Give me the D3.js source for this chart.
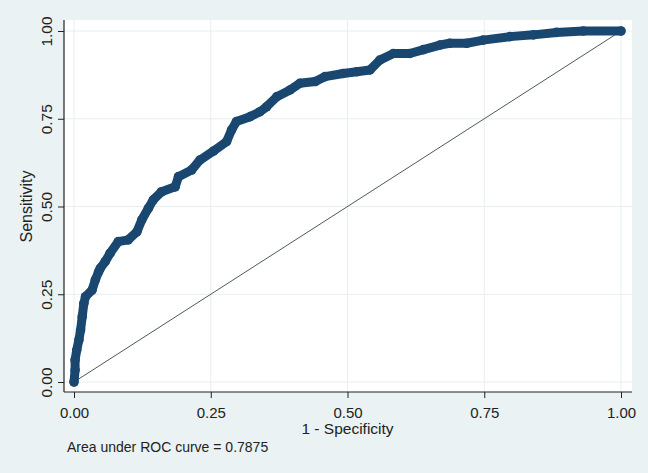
<!DOCTYPE html>
<html>
<head>
<meta charset="utf-8">
<script src="https://cdn.jsdelivr.net/npm/d3@7"></script>
<style>
  body { margin: 0; background: #eaf2f3; }
  svg { display: block; font-family: "Liberation Sans", Arial, sans-serif; }
</style>
</head>
<body>
<div id="chart"></div>
<script>
// Titik kurva ROC (1 - specificity, sensitivity)
const fpr = [0, 0.002, 0.002, 0.005, 0.009, 0.012, 0.015, 0.018, 0.021, 0.033,
  0.039, 0.045, 0.048, 0.057, 0.066, 0.081, 0.099, 0.115, 0.124, 0.136,
  0.145, 0.160, 0.185, 0.191, 0.215, 0.230, 0.255, 0.279, 0.288, 0.297,
  0.322, 0.340, 0.352, 0.371, 0.395, 0.413, 0.441, 0.459, 0.492, 0.517,
  0.541, 0.559, 0.584, 0.614, 0.639, 0.669, 0.687, 0.718, 0.748, 0.797,
  0.840, 0.882, 0.931, 1.0];
const tpr = [0, 0.034, 0.063, 0.091, 0.120, 0.148, 0.186, 0.224, 0.243, 0.262,
  0.291, 0.314, 0.324, 0.343, 0.367, 0.400, 0.405, 0.428, 0.462, 0.495,
  0.519, 0.542, 0.556, 0.585, 0.604, 0.632, 0.658, 0.685, 0.718, 0.742,
  0.756, 0.770, 0.784, 0.813, 0.832, 0.851, 0.856, 0.870, 0.879, 0.884,
  0.889, 0.917, 0.936, 0.936, 0.947, 0.960, 0.965, 0.965, 0.974, 0.984,
  0.989, 0.996, 1.0, 1.0];
const ticks = [0, 0.25, 0.5, 0.75, 1];
const tickLabels = ["0.00", "0.25", "0.50", "0.75", "1.00"];
const diagonal = [0, 1];
const aucText = "Area under ROC curve = 0.7875";

const W = 648, H = 473;
// area plot (putih)
const plot = { left: 64, right: 632, top: 20, bottom: 392 };

const x = d3.scaleLinear().domain([0, 1]).range([74, 621]);
const y = d3.scaleLinear().domain([0, 1]).range([382, 31]);

const svg = d3.select("#chart").append("svg")
  .attr("width", W)
  .attr("height", H);

svg.append("rect")
  .attr("width", W).attr("height", H)
  .attr("fill", "#eaf2f3");

svg.append("rect")
  .attr("x", plot.left).attr("y", plot.top)
  .attr("width", plot.right - plot.left)
  .attr("height", plot.bottom - plot.top)
  .attr("fill", "#ffffff");

// garis grid
svg.append("g").selectAll("line.gy")
  .data(ticks).enter().append("line")
  .attr("x1", plot.left).attr("x2", plot.right)
  .attr("y1", d => y(d)).attr("y2", d => y(d))
  .attr("stroke", "#e6eef0").attr("stroke-width", 1);

svg.append("g").selectAll("line.gx")
  .data(ticks).enter().append("line")
  .attr("y1", plot.top).attr("y2", plot.bottom)
  .attr("x1", d => x(d)).attr("x2", d => x(d))
  .attr("stroke", "#e6eef0").attr("stroke-width", 1);

// garis diagonal referensi
svg.append("line")
  .attr("x1", x(diagonal[0])).attr("y1", y(diagonal[0]))
  .attr("x2", x(diagonal[1])).attr("y2", y(diagonal[1]))
  .attr("stroke", "#4a5d50").attr("stroke-width", 1);

// kurva ROC
const pts = fpr.map((d, i) => [d, tpr[i]]);
const line = d3.line().x(d => x(d[0])).y(d => y(d[1]));

svg.append("path")
  .datum(pts)
  .attr("d", line)
  .attr("fill", "none")
  .attr("stroke", "#1a476f")
  .attr("stroke-width", 9)
  .attr("stroke-linejoin", "round")
  .attr("stroke-linecap", "round");

svg.append("g").selectAll("circle")
  .data(pts).enter().append("circle")
  .attr("cx", d => x(d[0]))
  .attr("cy", d => y(d[1]))
  .attr("r", 4.8)
  .attr("fill", "#1a476f");

// sumbu
const axisColor = "#222";
const yAxis = svg.append("g")
  .attr("transform", `translate(${plot.left},0)`)
  .call(d3.axisLeft(y).tickValues(ticks).tickSize(6).tickSizeOuter(0)
    .tickFormat((d, i) => tickLabels[i]));
yAxis.select(".domain").remove();
yAxis.selectAll(".tick line").attr("stroke", axisColor);
yAxis.selectAll(".tick text")
  .attr("x", 0).attr("dy", 0)
  .attr("transform", "translate(-12.5,0) rotate(-90)")
  .attr("text-anchor", "middle")
  .style("font-size", "15.5px")
  .attr("fill", "#222");

const xAxis = svg.append("g")
  .attr("transform", `translate(0,${plot.bottom})`)
  .call(d3.axisBottom(x).tickValues(ticks).tickSize(6).tickSizeOuter(0)
    .tickFormat((d, i) => tickLabels[i]));
xAxis.select(".domain").remove();
xAxis.selectAll(".tick line").attr("stroke", axisColor);
xAxis.selectAll(".tick text")
  .attr("y", 25.5).attr("dy", 0)
  .style("font-size", "15px")
  .attr("fill", "#222");

svg.append("line")
  .attr("x1", plot.left).attr("x2", plot.left)
  .attr("y1", plot.top).attr("y2", plot.bottom)
  .attr("stroke", axisColor).attr("stroke-width", 1.2);
svg.append("line")
  .attr("x1", plot.left).attr("x2", plot.right)
  .attr("y1", plot.bottom).attr("y2", plot.bottom)
  .attr("stroke", axisColor).attr("stroke-width", 1.2);

// judul sumbu
svg.append("text")
  .attr("x", (x(0) + x(1)) / 2)
  .attr("y", 434)
  .attr("text-anchor", "middle")
  .style("font-size", "15.5px")
  .attr("fill", "#222")
  .text("1 - Specificity");

svg.append("text")
  .attr("transform", `translate(31.5,${(y(0) + y(1)) / 2}) rotate(-90)`)
  .attr("text-anchor", "middle")
  .style("font-size", "16px")
  .attr("fill", "#222")
  .text("Sensitivity");

// catatan AUC
svg.append("text")
  .attr("x", 67)
  .attr("y", 452)
  .style("font-size", "14px")
  .attr("fill", "#222")
  .text(aucText);
</script>
</body>
</html>
